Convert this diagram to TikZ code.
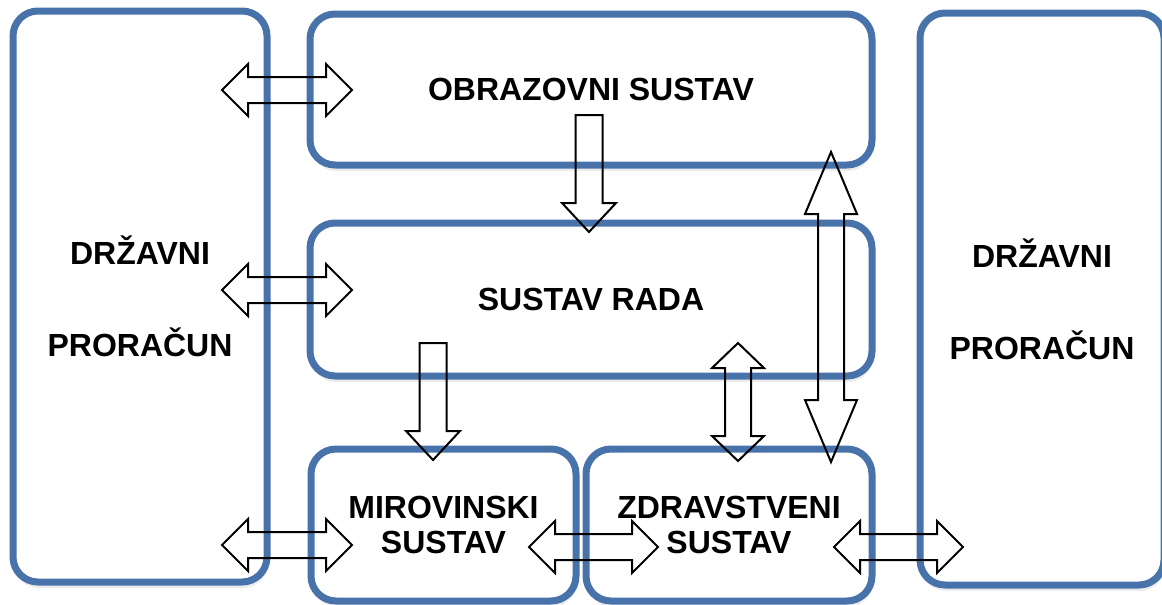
\documentclass[tikz,border=0pt]{standalone}
\usepackage{fontspec}
\setmainfont{Liberation Sans}
\usetikzlibrary{shadows}

\definecolor{plava}{RGB}{71,114,170}

\tikzset{
  okvir/.style={draw=plava, line width=7pt, rounded corners=25pt, fill=white,
    inner sep=0pt, align=center, font=\fontsize{32}{35}\selectfont\bfseries,
    drop shadow={shadow xshift=1pt, shadow yshift=-6pt, opacity=0.15}},
  strelica/.style={draw=black, line width=2pt, line join=miter}
}

% double block arrow: x, y, half length, head length, angle
\newcommand{\dvostruka}[5]{%
  \draw[strelica, shift={(#1,#2)}, rotate=#5]
    (-#3,0) -- (-#3+#4,-26) -- (-#3+#4,-13) -- (#3-#4,-13) -- (#3-#4,-26) --
    (#3,0) -- (#3-#4,26) -- (#3-#4,13) -- (-#3+#4,13) -- (-#3+#4,26) -- cycle;}
% single block arrow pointing down: x, top, length
\newcommand{\jednostruka}[3]{%
  \draw[strelica, shift={(#1,#2)}]
    (-13.5,0) -- (13.5,0) -- (13.5,#3-29) -- (27,#3-29) -- (0,#3) --
    (-27,#3-29) -- (-13.5,#3-29) -- cycle;}

\begin{document}
\begin{tikzpicture}[x=1pt, y=-1pt]
    \useasboundingbox (0,0) rectangle (1162,605);

    % the boxes
    \node[okvir, minimum width=254pt, minimum height=571pt] (drzavniL) at (140,296.5)
      {DRŽAVNI\\[57pt]PRORAČUN};
    \node[okvir, minimum width=244pt, minimum height=572pt] (drzavniD) at (1042,299)
      {DRŽAVNI\\[57pt]PRORAČUN};
    \node[okvir, minimum width=562pt, minimum height=151pt] (obrazovni) at (591,89.5)
      {OBRAZOVNI SUSTAV};
    \node[okvir, minimum width=562pt, minimum height=153pt] (rad) at (591,299.5)
      {SUSTAV RADA};
    \node[okvir, minimum width=265pt, minimum height=152pt] (mirovinski) at (443.5,525)
      {MIROVINSKI\\SUSTAV};
    \node[okvir, minimum width=286pt, minimum height=152pt] (zdravstveni) at (729,525)
      {ZDRAVSTVENI\\SUSTAV};

    % arrows to the budget
    \dvostruka{287}{90}{65}{26}{0}
    \dvostruka{287}{290}{65}{26}{0}
    \dvostruka{287}{545}{65}{26}{0}
    \dvostruka{898.5}{547}{64.5}{26}{0}

    % arrows between the systems
    \dvostruka{593.5}{547}{64.5}{26}{0}
    \dvostruka{738}{402}{59}{25}{90}
    \dvostruka{831}{307}{155}{62}{90}
    \jednostruka{589}{115}{117}
    \jednostruka{433}{343}{117}
\end{tikzpicture}
\end{document}
